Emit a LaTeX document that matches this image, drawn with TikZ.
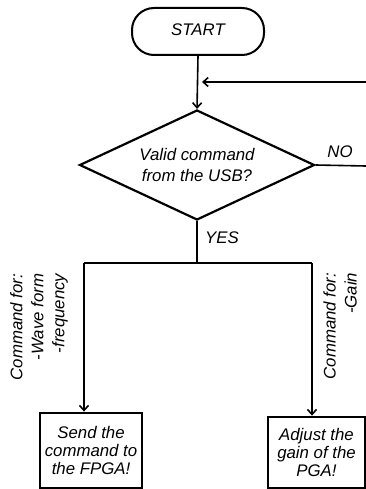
\documentclass[tikz,border=0pt]{standalone}
\usepackage{fontspec}
\setmainfont{Liberation Sans}
\usetikzlibrary{shapes.geometric,arrows.meta}
\tikzset{every path/.style={black,line width=1.6pt}, every node/.style={font=\fontsize{16.8}{21}\selectfont\itshape, inner sep=0pt}, >={Straight Barb[length=5pt,width=9pt]}}
\tikzset{term/.style={draw, line width=2pt, rounded corners=22pt, minimum width=132pt, minimum height=47pt},
         decision/.style={draw, diamond, line width=2.2pt, aspect=2.14, minimum width=235pt, minimum height=110pt, align=center},
         action/.style={draw, rectangle, line width=2.8pt, align=center, font=\fontsize{16.8}{18}\selectfont\itshape},
         branch/.style={rotate=90, align=right}}

\begin{document}
\begin{tikzpicture}[x=1pt,y=1pt]
   \useasboundingbox (0,0) rectangle (366,-489);
   % main flow
   \node[term] (start) at (198,-31.5) {\raisebox{4pt}{START}};
   \node[decision] (valid) at (197,-165) {Valid command\\from the USB?};
   \coordinate (loop) at (366,-82);
   \coordinate (noend) at (366,-166);
   \draw[->] (start.south) -- (valid.north);
   \draw[->,shorten >=5pt] (loop) -- (loop -| valid.north);
   \draw (valid.east) -- (noend);
   \node at (340,-152) {NO};
   % yes branch
   \coordinate (split) at (197,-263);
   \coordinate (lsplit) at (84,-263);
   \coordinate (rsplit) at (312,-263);
   \draw (valid.south) -- (split);
   \node at (222,-238) {YES};
   \draw (lsplit) -- (rsplit);
   \node[action, minimum width=102pt, minimum height=75pt] (fpga) at (91,-450.5) {Send the\\command to\\the FPGA!};
   \node[action, minimum width=97pt, minimum height=71pt] (pga) at (316.5,-452.5) {Adjust the\\gain of the\\PGA!};
   \draw[->] (lsplit) -- (lsplit |- fpga.north);
   \draw[->] (rsplit) -- (rsplit |- pga.north);
   \node[branch] (wavelbl) at (39,-327) {Command for:\\-Wave form\\-frequency};
   \node[branch] (gainlbl) at (340,-326) {Command for:\\-Gain};
\end{tikzpicture}
\end{document}
